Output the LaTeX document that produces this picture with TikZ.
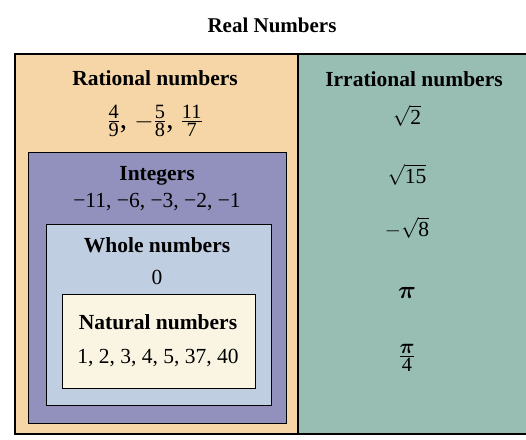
\documentclass[tikz,border=0pt]{standalone}
\usepackage{amsmath}
\usepackage{bm}
\usepackage{fontspec}
\setmainfont{Liberation Serif}
\usepackage{tikz}

\definecolor{rational}{RGB}{246,214,166}
\definecolor{integer}{RGB}{146,144,188}
\definecolor{whole}{RGB}{192,206,226}
\definecolor{natural}{RGB}{250,245,226}
\definecolor{irrational}{RGB}{152,190,180}

\begin{document}
\begin{tikzpicture}
 [x=1pt,y=-1pt,
  set box/.style={draw=black, line width=1.3pt, inner sep=0pt, anchor=north west},
  set name/.style={inner sep=0pt, font=\fontsize{21.5}{25}\selectfont\bfseries},
  set item/.style={inner sep=0pt, font=\fontsize{21.5}{25}\selectfont},
  set frac/.style={inner sep=0pt, font=\fontsize{29}{33}\selectfont}]

\useasboundingbox[fill=white] (0,0) rectangle (526,439);

\node[set box, fill=rational, line width=2pt, minimum width=283pt, minimum height=380pt] (rat) at (14,53) {};
\node[set box, fill=irrational, line width=2pt, minimum width=240pt, minimum height=380pt] (irr) at (297,53) {};
\node[set box, fill=integer, minimum width=258pt, minimum height=271pt] (int) at (28,152) {};
\node[set box, fill=whole, minimum width=225pt, minimum height=181pt] (whl) at (46,224) {};
\node[set box, fill=natural, minimum width=193pt, minimum height=94pt] (nat) at (62,294) {};

\node[font=\fontsize{21}{25}\selectfont\bfseries] (title) at (272,25) {Real Numbers};

\node[set name] (ratname) at (155,78) {Rational numbers};
\node[set frac] (ratitems) at (155,121)
  {$\tfrac{\text{4}}{\text{9}}$, $-\tfrac{\text{5}}{\text{8}}$, $\tfrac{\text{11}}{\text{7}}$};

\node[set name] (intname) at (157,176) {Integers};
\node[set item] (intitems) at (157,202) {−11, −6, −3, −2, −1};

\node[set name] (whlname) at (157,245) {Whole numbers};
\node[set item] (whlitems) at (157,277) {0};

\node[set name] (natname) at (158,322) {Natural numbers};
\node[set item] (natitems) at (158,358) {1, 2, 3, 4, 5, 37, 40};

\node[set name] (irrname) at (414,79) {Irrational numbers};
\node[set item] (irr1) at (407,116) {$\sqrt{\text{2}}$};
\node[set item] (irr2) at (407,175) {$\sqrt{\text{15}}$};
\node[set item] (irr3) at (407,228) {$-\sqrt{\text{8}}$};
\node[set item, font=\fontsize{25}{29}\selectfont] (irr4) at (407,293) {$\bm{\pi}$};
\node[set frac] (irr5) at (407,358) {$\tfrac{\bm{\pi}}{\text{4}}$};

\end{tikzpicture}
\end{document}
